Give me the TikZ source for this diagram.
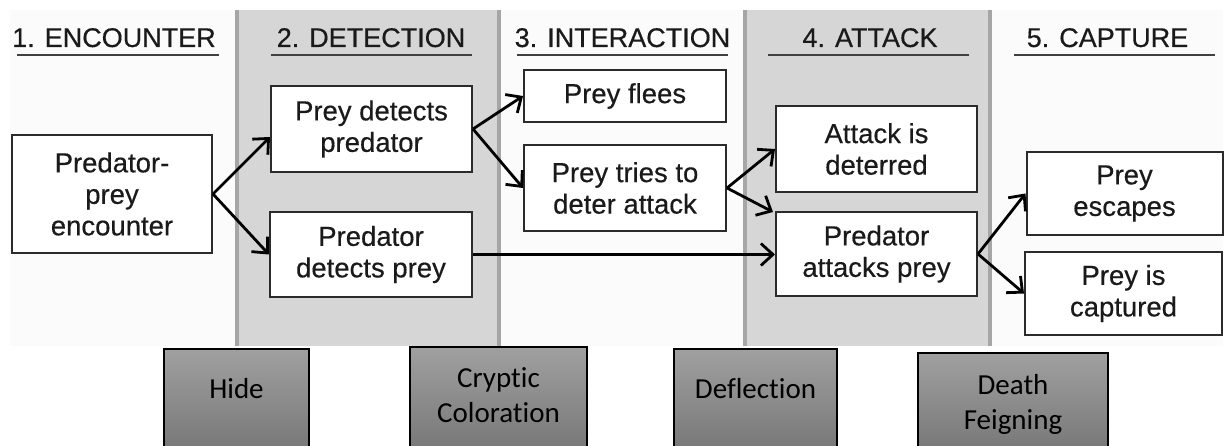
\documentclass[tikz,border=0pt]{standalone}
\usepackage{fontspec}
\setmainfont{Liberation Sans}
\newfontfamily\boxfont{Liberation Sans}[FakeBold=0.4]
\newfontfamily\calib{Carlito}[Ligatures=NoCommon]
\usetikzlibrary{arrows.meta}
\definecolor{panelgray}{HTML}{D6D6D6}
\definecolor{panelline}{HTML}{A6A6A6}
\definecolor{boxline}{HTML}{2B2B2B}
\definecolor{bandwhite}{HTML}{FBFBFB}
\definecolor{darktop}{HTML}{A0A0A0}
\definecolor{darkbot}{HTML}{777777}
\definecolor{txt}{HTML}{1A1A1A}
\begin{document}
\begin{tikzpicture}[x=1pt,y=-1pt,
  stagebox/.style={draw=boxline, line width=2pt, fill=white, inner sep=0pt, align=center, text=txt,
    font=\boxfont\fontsize{27.5}{31.5}\selectfont},
  header/.style={anchor=base, inner sep=0pt, text=txt, font=\boxfont\fontsize{27}{30}\selectfont},
  uline/.style={draw=black!75, line width=1.8pt},
  flow/.style={draw=black, line width=2.8pt, -{Straight Barb[length=12pt,width=22pt]}},
  panel/.style={fill=panelgray},
  pline/.style={draw=panelline, line width=3.5pt},
  tactic/.style={draw=black, line width=1.3pt, top color=darktop, bottom color=darkbot},
  tactictext/.style={align=center, inner sep=0pt, text=black, font=\calib\fontsize{29}{35}\selectfont}
]
\useasboundingbox (0,0) rectangle (1225,446);
\clip (0,0) rectangle (1225,446);
\fill[white] (0,0) rectangle (1225,446);
% background band and grey panels
\fill[bandwhite] (10,10) rectangle (1223,346);
\fill[panel] (237,10) rectangle (499,346);
\fill[panel] (745,10) rectangle (990,346);
\draw[pline] (237,10) -- (237,346);
\draw[pline] (499,10) -- (499,346);
\draw[pline] (745,10) -- (745,346);
\draw[pline] (990,10) -- (990,346);

% headers
\node[header] (h1) at (114,47) {1. ENCOUNTER};
\node[header] (h2) at (371,47) {2. DETECTION};
\node[header] (h3) at (622.5,47) {3. INTERACTION};
\node[header] (h4) at (870,47) {4. ATTACK};
\node[header] (h5) at (1107.5,47) {5. CAPTURE};
\draw[uline] (17,55) -- (219,55);
\draw[uline] (271,55) -- (472,55);
\draw[uline] (517,55) -- (728,55);
\draw[uline] (768,55) -- (969,55);
\draw[uline] (1014,55) -- (1215,55);

% stage boxes
\node[stagebox, minimum width=200pt, minimum height=118pt] (enc) at (112,194) {Predator-\\prey\\encounter};
\node[stagebox, minimum width=201pt, minimum height=86pt] (pdp) at (371.5,129) {Prey detects\\predator};
\node[stagebox, minimum width=202pt, minimum height=85pt] (pdy) at (371,254.5) {Predator\\detects prey};
\node[stagebox, minimum width=202pt, minimum height=52pt] (flee) at (625,96) {Prey flees};
\node[stagebox, minimum width=202pt, minimum height=86pt] (deter) at (625,188) {Prey tries to\\deter attack};
\node[stagebox, minimum width=201pt, minimum height=86pt] (dtr) at (876.5,149) {Attack is\\deterred};
\node[stagebox, minimum width=201pt, minimum height=84pt] (att) at (876.5,254) {Predator\\attacks prey};
\node[stagebox, minimum width=196pt, minimum height=83pt] (esc) at (1124.5,193.5) {Prey\\escapes};
\node[stagebox, minimum width=197pt, minimum height=83pt] (cap) at (1123.5,293.5) {Prey is\\captured};

% connectors
\draw[flow] (enc.east) -- ([yshift=-8pt]pdp.west);
\draw[flow] (enc.east) -- (pdy.west);
\draw[flow] (pdp.east) -- (flee.west);
\draw[flow] (pdp.east) -- (deter.west);
\draw[flow] (deter.east) -- (dtr.west);
\draw[flow] (deter.east) -- ([xshift=-2pt,yshift=-1pt]att.north west);
\draw[flow] (pdy.east) -- (att.west |- pdy.east);
\draw[flow] (att.east) -- (esc.west);
\draw[flow] (att.east) -- (cap.west);

% tactic boxes
\path[tactic] (164,349) rectangle (309,452);
\path[tactic] (410,347) rectangle (587,452);
\path[tactic] (674,349) rectangle (837,452);
\path[tactic] (918,353) rectangle (1108,452);
\node[tactictext] (hide) at (236.5,389) {Hide};
\node[tactictext] (cryptic) at (498.5,395) {Cryptic\\Coloration};
\node[tactictext] (defl) at (755.5,389) {Deflection};
\node[tactictext] (death) at (1013,404) {Death\\Feigning};
\end{tikzpicture}
\end{document}
